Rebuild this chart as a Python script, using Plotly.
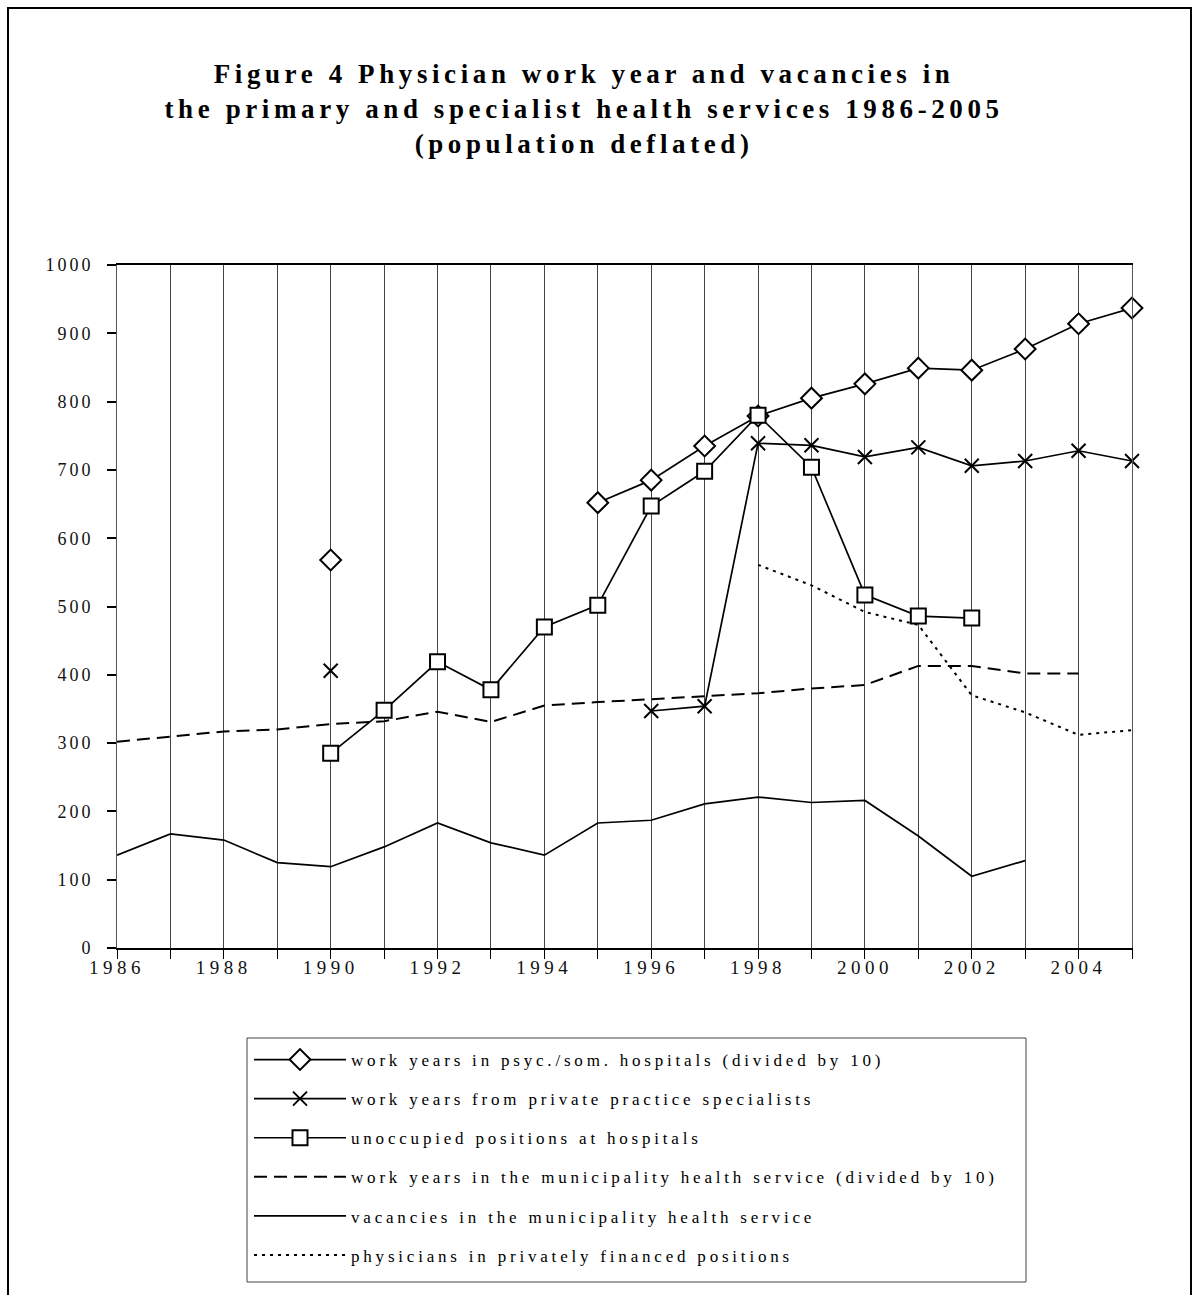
import plotly.graph_objects as go

years = list(range(1986, 2006))
tick_labels = [str(y) if y % 2 == 0 else "" for y in years]

hosp_work = [None, None, None, None, 568, None, None, None, None,
             652, 685, 735, 779, 805, 826, 849, 846, 877, 914, 937]
private_spec = [None, None, None, None, 406, None, None, None, None, None,
                347, 354, 739, 736, 719, 733, 706, 713, 728, 713]
unoccupied = [None, None, None, None, 285, 348, 419, 378, 470, 502,
              647, 698, 780, 704, 517, 486, 483, None, None, None]
muni_work = [302, 309, 317, 320, 328, 332, 346, 331, 355, 360,
             364, 368, 373, 380, 385, 413, 413, 402, 402, None]
muni_vac = [136, 167, 158, 125, 119, 148, 183, 154, 136, 183,
            187, 211, 221, 213, 216, 164, 105, 128, None, None]
private_fin = [None, None, None, None, None, None, None, None, None, None,
               None, None, 561, 531, 492, 473, 370, 345, 312, 319]

names = [
    "work years in psyc./som. hospitals (divided by 10)",
    "work years from private practice specialists",
    "unoccupied positions at hospitals",
    "work years in the municipality health service (divided by 10)",
    "vacancies in the municipality health service",
    "physicians in privately financed positions",
]

FONT = "Liberation Serif"
fig = go.Figure()

def add(y, name, group, dash="solid", width=1.7, symbol=None, msize=0):
    kw = dict(x=years, y=y, name=name, legendgroup=group, connectgaps=False,
              line=dict(color="black", width=width, dash=dash), cliponaxis=False)
    if symbol:
        kw["mode"] = "lines+markers"
        if "x" in symbol:
            kw["marker"] = dict(symbol=symbol, size=msize, color="black",
                                line=dict(color="black", width=2))
        else:
            kw["marker"] = dict(symbol=symbol, size=msize, color="white",
                                line=dict(color="black", width=2))
    else:
        kw["mode"] = "lines"
    fig.add_trace(go.Scatter(**kw))

add(hosp_work, names[0], "g1", symbol="diamond", msize=16)
add(private_spec, names[1], "g2", symbol="x-thin-open", msize=14)
add(unoccupied, names[2], "g3", symbol="square", msize=15)
add(muni_work, names[3], "g4", dash="13px,7px", width=2)
add(muni_vac, names[4], "g5", width=1.7)
add(private_fin, names[5], "g6", dash="3px,5px", width=2)

L, R, T, B = 117, 60, 265, 347
PW, PH = 1192 - L - R, 1295 - T - B

def px(xp):
    return (xp - L) / PW

def py(yp):
    return (T + PH - yp) / PH

fig.update_layout(
    width=1192, height=1295,
    margin=dict(l=L, r=R, t=T, b=B, autoexpand=False),
    paper_bgcolor="white", plot_bgcolor="white",
    font=dict(family=FONT, color="black"),
    title=dict(
        text="Figure 4 Physician work year and vacancies in<br>"
             "the primary and specialist health services 1986-2005<br>"
             "(population deflated)",
        x=0.49, xanchor="center", y=1 - 83 / 1295, yanchor="top",
        font=dict(family=FONT, size=27, color="black", weight="bold"),
    ),
    xaxis=dict(
        range=[1986, 2005], tickvals=years, ticktext=tick_labels,
        ticks="outside", ticklen=9, tickcolor="black", tickwidth=1,
        showline=True, linecolor="black", linewidth=1.5, mirror=True,
        showgrid=True, gridcolor="#444", gridwidth=1, zeroline=False,
        ticklabelstandoff=-8, automargin=False,
        tickfont=dict(family=FONT, size=19, color="#111"),
    ),
    yaxis=dict(
        range=[0, 1000], dtick=100, tick0=0,
        ticks="outside", ticklen=9, tickcolor="black", tickwidth=1.5,
        showline=True, linecolor="#555", linewidth=1, mirror=True,
        showgrid=False, zeroline=False, ticklabelstandoff=10, automargin=False,
        tickfont=dict(family=FONT, size=18, color="#111"),
    ),
    showlegend=True,
    legend=dict(
        x=px(249), xanchor="left", y=py(1042), yanchor="top",
        bgcolor="rgba(0,0,0,0)", borderwidth=0,
        font=dict(family=FONT, size=17, color="black"),
        itemwidth=92, tracegroupgap=14, traceorder="grouped",
    ),
    shapes=[
        dict(type="rect", xref="paper", yref="paper",
             x0=px(8), x1=px(1191), y0=py(1320), y1=py(8),
             line=dict(color="black", width=2), layer="below"),
        dict(type="rect", xref="paper", yref="paper",
             x0=px(247), x1=px(1026), y0=py(1282), y1=py(1038),
             line=dict(color="#444", width=1), layer="below"),
    ],
)

post = """
document.querySelectorAll('.gtitle').forEach(function(e){e.style.letterSpacing='4.6px';});
document.querySelectorAll('.xtick text').forEach(function(e){e.style.letterSpacing='4.5px';});
document.querySelectorAll('.ytick text').forEach(function(e){e.style.letterSpacing='3px';});
document.querySelectorAll('.legendtext').forEach(function(e){e.style.letterSpacing='3.8px';});
document.querySelectorAll('.legend .scrollbox').forEach(function(e){e.removeAttribute('clip-path');});
document.querySelectorAll('.legend [clip-path]').forEach(function(e){e.removeAttribute('clip-path');});
"""

fig.write_html("out.html", post_script=post)
